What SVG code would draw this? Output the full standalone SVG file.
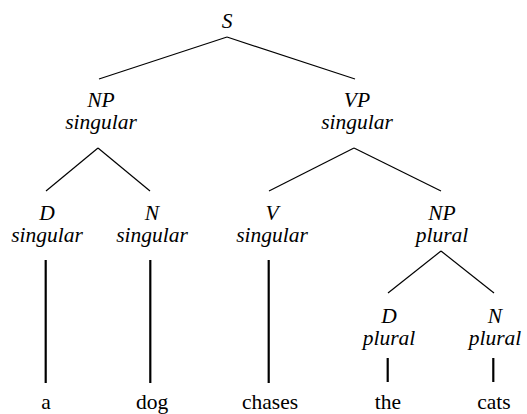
<svg xmlns="http://www.w3.org/2000/svg" width="527" height="414" viewBox="0 0 527 414">
<style>
text{font-size:21.5px;text-anchor:middle;fill:#000}
.c{font-style:italic}
.e{stroke:#000;stroke-width:1.2;fill:none}
.t{stroke:#000;stroke-width:2.2;fill:none}
</style>
<rect width="527" height="414" fill="#fff"/>
<g id="connectors">
<line class="e" x1="227" y1="37" x2="99" y2="79"/>
<line class="e" x1="227" y1="37" x2="355" y2="79"/>
<line class="e" x1="98" y1="148" x2="46" y2="191"/>
<line class="e" x1="98" y1="148" x2="150" y2="191"/>
<line class="e" x1="354" y1="148" x2="269" y2="191"/>
<line class="e" x1="354" y1="148" x2="441" y2="191"/>
<line class="e" x1="441" y1="251" x2="388" y2="293"/>
<line class="e" x1="441" y1="251" x2="494" y2="293"/>
<line class="t" x1="45.7" y1="260" x2="45.7" y2="383"/>
<line class="t" x1="150.3" y1="260" x2="150.3" y2="383"/>
<line class="t" x1="268.7" y1="260" x2="268.7" y2="383"/>
<line class="t" x1="387.7" y1="358" x2="387.7" y2="382"/>
<line class="t" x1="493.3" y1="358" x2="493.3" y2="382"/>
</g>
<g id="S"><text class="c" style="font-family:'Liberation Serif'" x="227" y="28">S</text></g>
<g id="NP1"><text class="c" style="font-family:'Liberation Serif'" x="101" y="107">NP</text><text class="c" style="font-family:'Liberation Serif'" x="101" y="129">singular</text></g>
<g id="VP"><text class="c" style="font-family:'Liberation Serif'" x="357" y="107">VP</text><text class="c" style="font-family:'Liberation Serif'" x="357" y="129">singular</text></g>
<g id="D1"><text class="c" style="font-family:'Liberation Serif'" x="47" y="220">D</text><text class="c" style="font-family:'Liberation Serif'" x="47" y="242">singular</text></g>
<g id="N1"><text class="c" style="font-family:'Liberation Serif'" x="152" y="220">N</text><text class="c" style="font-family:'Liberation Serif'" x="152" y="242">singular</text></g>
<g id="V"><text class="c" style="font-family:'Liberation Serif'" x="272" y="220">V</text><text class="c" style="font-family:'Liberation Serif'" x="272" y="242">singular</text></g>
<g id="NP2"><text class="c" style="font-family:'Liberation Serif'" x="442" y="220">NP</text><text class="c" style="font-family:'Liberation Serif'" x="442" y="242">plural</text></g>
<g id="D2"><text class="c" style="font-family:'Liberation Serif'" x="389" y="323">D</text><text class="c" style="font-family:'Liberation Serif'" x="389" y="345">plural</text></g>
<g id="N2"><text class="c" style="font-family:'Liberation Serif'" x="495" y="323">N</text><text class="c" style="font-family:'Liberation Serif'" x="495" y="345">plural</text></g>
<g id="w1"><text style="font-family:'Liberation Serif'" x="46" y="409">a</text></g>
<g id="w2"><text style="font-family:'Liberation Serif'" x="152" y="409">dog</text></g>
<g id="w3"><text style="font-family:'Liberation Serif'" x="270" y="409">chases</text></g>
<g id="w4"><text style="font-family:'Liberation Serif'" x="388" y="409">the</text></g>
<g id="w5"><text style="font-family:'Liberation Serif'" x="494" y="409">cats</text></g>
</svg>
